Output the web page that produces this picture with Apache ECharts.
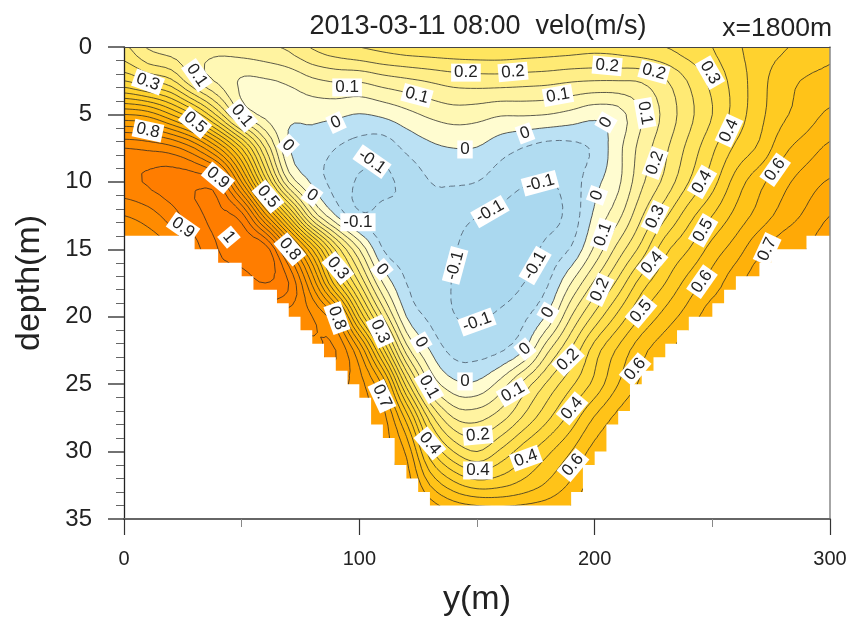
<!DOCTYPE html>
<html><head><meta charset="utf-8"><style>html,body{margin:0;background:#fff}#c{width:851px;height:620px}</style>
<script src="https://cdn.jsdelivr.net/npm/echarts@6/dist/echarts.min.js"></script></head>
<body><div id="c"></div><script>
// cross-channel distance (m), every 10 m
const yMeters=[0,10,20,30,40,50,60,70,80,90,100,110,120,130,140,150,160,170,180,190,200,210,220,230,240,250,260,270,280,290,300];
const depths=[0,2.5,5,7.5,10,12.5,15,17.5,20,22.5,25,27.5,30,32.5,35];
const _=null;
// velocity (m/s) per depth row
const velo00=[.21,.145,.125,.115,.11,.125,.14,.16,.205,.23,.25,.265,.275,.28,.283,.285,.285,.28,.275,.27,.265,.27,.285,.30,.325,.35,.39,.425,.445,.465,.49];
const velo25=[.35,.30,.26,.15,.09,.045,.045,.06,.09,.105,.105,.125,.14,.155,.17,.175,.175,.17,.165,.155,.15,.15,.155,.195,.255,.315,.37,.43,.48,.505,.515];
const velo50=[.65,.63,.55,.44,.28,.10,.035,.012,.015,.01,-.002,.01,.035,.06,.075,.07,.055,.055,.05,.035,.015,.03,.10,.165,.235,.30,.37,.435,.49,.525,.56];
const velo75=[.90,.89,.87,.80,.66,.45,.20,.003,-.02,-.05,-.07,-.08,-.04,-.012,.0,-.002,-.03,-.052,-.07,-.065,-.04,.035,.12,.19,.265,.34,.41,.46,.535,.575,.61];
const velo100=[.935,.955,.975,.985,.95,.70,.38,.10,-.01,-.07,-.105,-.11,-.085,-.05,-.045,-.05,-.075,-.095,-.105,-.075,-.015,.04,.14,.215,.30,.38,.47,.535,.585,.625,.655];
const velo125=[.85,.875,.925,.985,1.01,.97,.72,.44,.15,.0,-.09,-.085,-.09,-.065,-.08,-.098,-.11,-.125,-.12,-.08,.01,.085,.195,.29,.38,.45,.515,.57,.62,.66,.70];
const velo150=[.79,.81,.85,.93,1.0,1.03,1.03,.80,.55,.29,.10,-.05,-.07,-.075,-.095,-.13,-.13,-.125,-.085,-.045,.06,.17,.27,.385,.45,.52,.575,.64,.68,.70,.73];
const velo175=[_,_,_,_,.97,.97,1.0,.95,.74,.47,.25,.05,-.05,-.075,-.103,-.14,-.125,-.10,-.055,.05,.16,.265,.375,.45,.52,.575,.63,.68,_,_,_];
const velo200=[_,_,_,_,_,_,.92,.88,.85,.75,.45,.20,.0,-.06,-.098,-.105,-.09,-.06,.01,.15,.265,.365,.455,.52,.575,.625,_,_,_,_,_];
const velo225=[_,_,_,_,_,_,_,_,.84,.85,.70,.42,.13,.0,-.065,-.07,-.055,.0,.14,.255,.375,.46,.535,.585,.63,_,_,_,_,_,_];
const velo250=[_,_,_,_,_,_,_,_,_,.82,.77,.64,.33,.10,.015,.01,.07,.17,.26,.34,.415,.50,.56,.60,_,_,_,_,_,_,_];
const velo275=[_,_,_,_,_,_,_,_,_,_,.76,.72,.53,.28,.15,.135,.18,.26,.34,.42,.505,.565,.60,_,_,_,_,_,_,_,_];
const velo300=[_,_,_,_,_,_,_,_,_,_,_,.72,.64,.42,.30,.25,.31,.38,.44,.50,.57,.60,_,_,_,_,_,_,_,_,_];
const velo325=[_,_,_,_,_,_,_,_,_,_,_,_,.68,.55,.47,.43,.44,.47,.51,.56,.62,_,_,_,_,_,_,_,_,_,_];
const velo350=[_,_,_,_,_,_,_,_,_,_,_,_,.72,.66,.62,.61,.60,.60,.60,.62,.65,_,_,_,_,_,_,_,_,_,_];
const veloRows=[velo00,velo25,velo50,velo75,velo100,velo125,velo150,velo175,velo200,velo225,velo250,velo275,velo300,velo325,velo350];
// channel bed: [from y, to y, depth]
const bedFrom=[0,30,40,50,55,65,70,75,80,85,90,95,100,105,110,115,120,125,130,190,195,200,205,210,215,220,225,230,235,240,250,255,260,270,275,290];
const bedTo=[30,40,50,55,65,70,75,80,85,90,95,100,105,110,115,120,125,130,190,195,200,205,210,215,220,225,230,235,240,250,255,260,270,275,290,300];
const bedDepth=[14,15,16,17,18,19,20,21,22,23,24,25,26,28,29,31,32,33,34,33,31,30,28,27,25,24,23,22,21,20,19,18,17,16,15,14];
// contour levels and fills
const levels=[-.1,-.05,0,.05,.1,.15,.2,.25,.3,.35,.4,.45,.5,.55,.6,.65,.7,.75,.8,.85,.9,.95,1];
const fills=['#aad8ef','#b1dcf1','#bbe1f4','#fffcd0','#fff8b4','#fff3a0','#ffee88','#ffea74','#ffe55f','#ffdf4c','#ffd93c','#ffd22e','#ffcb22','#ffc318','#ffba10','#ffb10a','#ffa906','#ffa103','#ff9901','#ff9200','#ff8b00','#ff8400','#ff7d00'];
// contour labels: y (m), depth (m), text, angle (deg)
const labelY=[10.2,31,30.2,10.2,50.1,39.9,61.2,69.7,90.1,79.9,25.1,44.6,70.5,90.9,90.5,109.6,108.8,109.6,126.2,129.6,130,144.9,150.4,150.4,170.8,190.8,165.3,190.4,188.7,170.4,180.2,150,140.7,174.7,155.5,176.8,105.4,99.4,94.8,124.5,145.3,165.3,205.3,225.2,249,184.4,170.4,144.9,204.8,201,203.6,221.4,225.7,225.7,257.1,245.6,276.7,246.1,273.3,245.6,224.4,219.7,217.2,202.3];
const labelZ=[2.6,2.1,5.6,6.2,5.1,9.7,11.1,7.3,5.6,11,13.4,14.1,15,16.4,20.1,16.5,21.1,25.9,21.9,25.2,29.4,24.8,28.8,31.4,30.5,31,25.6,26.8,23.2,22.4,19.7,20.4,16.2,16.2,12.2,10.1,8.5,13,3,3.6,1.9,1.85,1.4,1.85,1.9,3.6,6.4,7.6,5.6,11,13.9,4.9,8.6,12.6,6.2,10,9.1,13.6,15,17.4,16,19.6,23.9,18];
const labelText=['0.3','0.1','0.5','0.8','0.1','0.9','0.5','0','0','0','0.9','1','0.8','0.3','0.8','0','0.3','0.7','0','0.1','0.4','0','0.2','0.4','0.4','0.6','0.1','0.4','0.2','0','0','-0.1','-0.1','-0.1','-0.1','-0.1','-0.1','-0.1','0.1','0.1','0.2','0.2','0.2','0.2','0.3','0.1','0','0','0','0','0.1','0.1','0.2','0.3','0.4','0.4','0.6','0.5','0.7','0.6','0.4','0.5','0.6','0.2'];
const labelAngle=[-20,-55,-40,-12,-50,-40,-50,-45,25,-35,-35,-50,-50,-50,-70,-50,-65,-65,-60,-60,-50,0,5,0,20,50,30,50,45,40,60,20,75,60,30,15,-35,0,0,-15,0,5,-5,-15,-60,10,20,0,60,70,70,-80,70,65,65,60,55,60,65,55,50,50,50,65];

const M=4;
function filled(){return veloRows.map((row,i)=>row.map((v,j)=>{let r=i;while(veloRows[r][j]===null)r--;return veloRows[r][j];}));}
function cr(a,b,c,d,t){return .5*(2*b+(c-a)*t+(2*a-5*b+4*c-d)*t*t+(3*b-a-3*c+d)*t*t*t);}
function fineGrid(){
  const g=filled(),R=g.length,C=g[0].length,at=(r,c)=>g[Math.max(0,Math.min(R-1,r))][Math.max(0,Math.min(C-1,c))];
  const out=[];
  for(let r=0;r<=(R-1)*M;r++){const r0=Math.floor(r/M),tr=r/M-r0,row=[];
    for(let c=0;c<=(C-1)*M;c++){const c0=Math.floor(c/M),tc=c/M-c0,p=[];
      for(let k=-1;k<=2;k++)p.push(cr(at(r0+k,c0-1),at(r0+k,c0),at(r0+k,c0+1),at(r0+k,c0+2),tc));
      row.push(cr(p[0],p[1],p[2],p[3],tr));}
    out.push(row);}
  return out;
}
const fine=fineGrid(),FR=fine.length,FC=fine[0].length;
function pos(api){const a=[];for(let r=0;r<FR;r++){const row=[];const z=depths[0]+(depths[depths.length-1]-depths[0])*r/(FR-1);
  for(let c=0;c<FC;c++){row.push(api.coord([yMeters[0]+(yMeters[yMeters.length-1]-yMeters[0])*c/(FC-1),z]));}a.push(row);}return a;}
const f=n=>n.toFixed(2);
function fillPath(P,t){
  let s='';
  const tri=(a,b,c)=>{const vs=[a,b,c],poly=[];
    for(let i=0;i<3;i++){const A=vs[i],B=vs[(i+1)%3],va=fine[A[0]][A[1]],vb=fine[B[0]][B[1]],pa=P[A[0]][A[1]],pb=P[B[0]][B[1]];
      if(va>=t)poly.push(pa);
      if((va>=t)!==(vb>=t)){const u=(t-va)/(vb-va);poly.push([pa[0]+(pb[0]-pa[0])*u,pa[1]+(pb[1]-pa[1])*u]);}}
    if(poly.length>2){s+='M'+f(poly[0][0])+' '+f(poly[0][1]);for(let i=1;i<poly.length;i++)s+='L'+f(poly[i][0])+' '+f(poly[i][1]);s+='Z';}};
  for(let r=0;r<FR-1;r++){let run=-1;
    for(let c=0;c<FC-1;c++){
      const all=fine[r][c]>=t&&fine[r][c+1]>=t&&fine[r+1][c]>=t&&fine[r+1][c+1]>=t;
      if(all){if(run<0)run=c;}
      if((!all||c===FC-2)&&run>=0){const e=all?c+1:c,a=P[r][run],b=P[r+1][e];
        s+='M'+f(a[0])+' '+f(a[1])+'L'+f(b[0])+' '+f(a[1])+'L'+f(b[0])+' '+f(b[1])+'L'+f(a[0])+' '+f(b[1])+'Z';run=-1;}
      if(!all){tri([r,c],[r,c+1],[r+1,c+1]);tri([r,c],[r+1,c+1],[r+1,c]);}
    }}
  return s;
}
function linePath(P,t){
  const segs=[],adj=new Map(),pts=new Map();
  const key=(A,B)=>{const x=A[0]*FC+A[1],y=B[0]*FC+B[1];return x<y?x+'_'+y:y+'_'+x;};
  const tri=(a,b,c)=>{const vs=[a,b,c],ks=[];
    for(let i=0;i<3;i++){const A=vs[i],B=vs[(i+1)%3],va=fine[A[0]][A[1]],vb=fine[B[0]][B[1]];
      if((va>=t)!==(vb>=t)){const k=key(A,B),pa=P[A[0]][A[1]],pb=P[B[0]][B[1]],u=(t-va)/(vb-va);
        pts.set(k,[pa[0]+(pb[0]-pa[0])*u,pa[1]+(pb[1]-pa[1])*u]);ks.push(k);}}
    if(ks.length===2){const id=segs.length;segs.push(ks);for(const k of ks){if(!adj.has(k))adj.set(k,[]);adj.get(k).push(id);}}};
  for(let r=0;r<FR-1;r++)for(let c=0;c<FC-1;c++){tri([r,c],[r,c+1],[r+1,c+1]);tri([r,c],[r+1,c+1],[r+1,c]);}
  const used=new Array(segs.length).fill(false);let s='';
  const walk=(id,start)=>{let k=start;const p=pts.get(k);s+='M'+f(p[0])+' '+f(p[1]);
    while(id!==undefined){used[id]=true;const sg=segs[id];k=sg[0]===k?sg[1]:sg[0];const q=pts.get(k);s+='L'+f(q[0])+' '+f(q[1]);
      id=adj.get(k).find(x=>!used[x]);}};
  for(const [k,l] of adj){if(l.length===1&&!used[l[0]])walk(l[0],k);}
  segs.forEach((sg,i)=>{if(!used[i])walk(i,sg[0]);});
  return s;
}
let cacheP=null;
const fillThresholds=[-9].concat(levels);
const chart=echarts.init(document.getElementById('c'),null,{renderer:'canvas'});
const FONT='"Liberation Sans",Arial,sans-serif';
chart.setOption({
  animation:false,backgroundColor:'#fff',
  title:[
    {text:'2013-03-11 08:00  velo(m/s)',left:473,top:8,textAlign:'center',textStyle:{fontFamily:FONT,fontSize:27,fontWeight:'normal',color:'#222'}},
    {text:'x=1800m',right:14,top:10,textStyle:{fontFamily:FONT,fontSize:26.5,fontWeight:'normal',color:'#222'}}
  ],
  grid:{left:124,right:21,top:47,bottom:101,containLabel:false,outerBoundsMode:'none'},
  xAxis:[
    {type:'value',min:0,max:300,interval:100,position:'bottom',z:5,name:'y(m)',nameLocation:'middle',nameGap:64,
     nameTextStyle:{fontFamily:FONT,fontSize:34,color:'#222'},
     axisLine:{show:true,onZero:false,lineStyle:{color:'#666',width:2}},
     axisTick:{show:true,length:16,inside:false,lineStyle:{color:'#333',width:1.2}},
     minorTick:{show:true,splitNumber:2,length:8,lineStyle:{color:'#888',width:1}},
     axisLabel:{fontFamily:FONT,fontSize:20,color:'#222',margin:30,showMinLabel:true,showMaxLabel:true},splitLine:{show:false}},
    {type:'value',min:0,max:300,position:'top',z:5,axisLine:{show:true,onZero:false,lineStyle:{color:'#444',width:1.2}},axisTick:{show:false},minorTick:{show:false},axisLabel:{show:false},splitLine:{show:false}}
  ],
  yAxis:[
    {type:'value',min:0,max:35,interval:5,inverse:true,position:'left',z:5,name:'depth(m)',nameLocation:'middle',nameGap:77,nameRotate:90,
     nameTextStyle:{fontFamily:FONT,fontSize:34,color:'#222'},
     axisLine:{show:true,onZero:false,lineStyle:{color:'#222',width:1.3}},
     axisTick:{show:true,length:16,lineStyle:{color:'#444',width:1.5}},
     minorTick:{show:true,splitNumber:5,length:8,lineStyle:{color:'#666',width:1}},
     axisLabel:{fontFamily:FONT,fontSize:24,color:'#222',margin:32},splitLine:{show:false}},
    {type:'value',min:0,max:35,inverse:true,position:'right',z:5,axisLine:{show:true,onZero:false,lineStyle:{color:'#888',width:1.5}},axisTick:{show:false},minorTick:{show:false},axisLabel:{show:false},splitLine:{show:false}}
  ],
  series:[
    {type:'custom',name:'fill',coordinateSystem:'cartesian2d',clip:true,z:2,silent:true,
     data:fillThresholds.map((t,i)=>[i]),
     renderItem(p,api){if(!cacheP)cacheP=pos(api);const i=p.dataIndex;
       return {type:'path',shape:{pathData:fillPath(cacheP,fillThresholds[i])},style:{fill:fills[i]}};}},
    {type:'custom',name:'lines',coordinateSystem:'cartesian2d',clip:true,z:3,silent:true,
     data:levels.map((t,i)=>[i]),
     renderItem(p,api){if(!cacheP)cacheP=pos(api);const t=levels[p.dataIndex];
       return {type:'path',shape:{pathData:linePath(cacheP,t)},style:{fill:null,stroke:t<0?'#567':'#262626',lineWidth:t<0?.9:.75,lineDash:t<0?[6,4]:null}};}},
    {type:'custom',name:'bed',coordinateSystem:'cartesian2d',clip:true,z:4,silent:true,
     data:[[0]],
     renderItem(p,api){const bottom=depths[depths.length-1],pts=[api.coord([bedFrom[0],bottom])];
       bedDepth.forEach((d,i)=>{pts.push(api.coord([bedFrom[i],d]),api.coord([bedTo[i],d]));});
       pts.push(api.coord([bedTo[bedTo.length-1],bottom]));
       return {type:'polygon',shape:{points:pts},style:{fill:'#fff'}};}},
    {type:'custom',name:'labels',coordinateSystem:'cartesian2d',clip:false,z:6,silent:true,
     data:labelText.map((t,i)=>[labelY[i],labelZ[i],labelAngle[i]]),
     renderItem(p,api){const c=api.coord([api.value(0),api.value(1)]);
       return {type:'text',x:c[0],y:c[1],rotation:api.value(2)*Math.PI/180,
         style:{text:labelText[p.dataIndex],align:'center',verticalAlign:'middle',font:'17px '+FONT,fill:'#222',backgroundColor:'#fff',padding:[1,3,0,3]}};}}
  ]
});
</script></body></html>
